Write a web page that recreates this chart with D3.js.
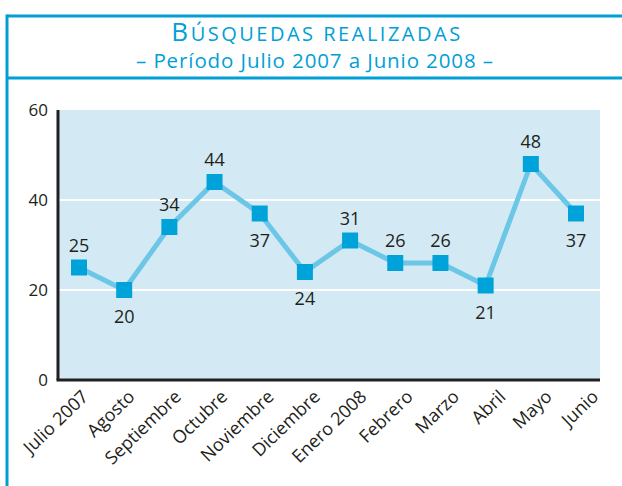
<!DOCTYPE html>
<html>
<head>
<meta charset="utf-8">
<script src="https://cdn.jsdelivr.net/npm/d3@7"></script>
<style>
  body { margin: 0; background: #fff; }
  text { font-family: "Open Sans", "Noto Sans", sans-serif; }
</style>
</head>
<body>
<div id="chart"></div>
<script>
// data
const months = ['Julio 2007', 'Agosto', 'Septiembre', 'Octubre', 'Noviembre', 'Diciembre',
                'Enero 2008', 'Febrero', 'Marzo', 'Abril', 'Mayo', 'Junio'];
const searches = [25, 20, 34, 44, 37, 24, 31, 26, 26, 21, 48, 37];
const labelBelow = [false, true, false, false, true, true, false, false, false, true, false, true];
const yTicks = [0, 20, 40, 60];

const W = 622, H = 486;
const blue = '#00a0d6';

const svg = d3.select('#chart').append('svg')
    .attr('width', W)
    .attr('height', H);

// frame
svg.append('line').attr('x1', 7).attr('x2', W).attr('y1', 16).attr('y2', 16)
    .attr('stroke', blue).attr('stroke-width', 3);
svg.append('line').attr('x1', 7).attr('x2', W).attr('y1', 78).attr('y2', 78)
    .attr('stroke', blue).attr('stroke-width', 3);
svg.append('line').attr('x1', 7).attr('x2', 7).attr('y1', 14.5).attr('y2', H)
    .attr('stroke', blue).attr('stroke-width', 3);

// title (small caps done by hand)
const title = svg.append('text')
    .attr('x', 317).attr('y', 41)
    .attr('text-anchor', 'middle')
    .style('letter-spacing', '2.5px')
    .attr('fill', blue);
title.append('tspan').style('font-size', '26px').text('B');
title.append('tspan').style('font-size', '20px').text('ÚSQUEDAS REALIZADAS');

svg.append('text')
    .attr('x', 315).attr('y', 68)
    .attr('text-anchor', 'middle')
    .style('font-size', '20.5px')
    .style('letter-spacing', '0.9px')
    .attr('fill', blue)
    .text('– Período Julio 2007 a Junio 2008 –');

// plot
const margin = { top: 110, left: 58, right: 22, bottom: 106 };
const plotW = W - margin.left - margin.right;
const plotH = H - margin.top - margin.bottom;

const g = svg.append('g')
    .attr('transform', `translate(${margin.left}, ${margin.top})`);

const x = d3.scalePoint()
    .domain(months)
    .range([21, plotW - 24]);

// rotated month labels sit on a slightly wider spacing than the points
const xLab = d3.scalePoint()
    .domain(months)
    .range([31, 541]);

const y = d3.scaleLinear()
    .domain([0, 60])
    .range([plotH, 0]);

g.append('rect')
    .attr('width', plotW)
    .attr('height', plotH)
    .attr('fill', '#d3eaf4');

// gridlines
g.selectAll('.grid')
    .data(yTicks.filter(d => d > 0 && d < 60))
    .enter().append('line')
    .attr('x1', 0).attr('x2', plotW)
    .attr('y1', d => y(d)).attr('y2', d => y(d))
    .attr('stroke', '#fff')
    .attr('stroke-width', 2);

// axes
const yAxis = g.append('g')
    .call(d3.axisLeft(y).tickValues(yTicks).tickSize(0).tickPadding(10));
yAxis.select('.domain').remove();
yAxis.selectAll('text')
    .style('font-size', '17px')
    .attr('fill', '#231f20');

const xAxis = g.append('g')
    .attr('transform', `translate(0, ${plotH})`)
    .call(d3.axisBottom(xLab).tickSize(0).tickPadding(0));
xAxis.select('.domain').remove();
xAxis.selectAll('text')
    .style('font-size', '18px')
    .attr('fill', '#231f20')
    .attr('text-anchor', 'end')
    .attr('y', 0)
    .attr('dy', 0)
    .attr('transform', 'translate(0, 18) rotate(-44)');

g.append('line')
    .attr('x1', 0).attr('x2', 0).attr('y1', 0).attr('y2', plotH)
    .attr('stroke', '#231f20').attr('stroke-width', 3);
g.append('line')
    .attr('x1', -1.5).attr('x2', plotW).attr('y1', plotH).attr('y2', plotH)
    .attr('stroke', '#231f20').attr('stroke-width', 3);

// line + markers
const line = d3.line()
    .x((d, i) => x(months[i]))
    .y(d => y(d));

g.append('path')
    .datum(searches)
    .attr('d', line)
    .attr('fill', 'none')
    .attr('stroke', '#6cc6e6')
    .attr('stroke-width', 5)
    .attr('stroke-linejoin', 'round');

const ms = 16;
g.selectAll('.pt')
    .data(searches)
    .enter().append('rect')
    .attr('x', (d, i) => x(months[i]) - ms / 2)
    .attr('y', d => y(d) - ms / 2)
    .attr('width', ms)
    .attr('height', ms)
    .attr('fill', '#00a3d9');

g.selectAll('.lbl')
    .data(searches)
    .enter().append('text')
    .attr('x', (d, i) => x(months[i]))
    .attr('y', (d, i) => labelBelow[i] ? y(d) + 33 : y(d) - 16)
    .attr('text-anchor', 'middle')
    .style('font-size', '18px')
    .attr('fill', '#231f20')
    .text(d => d);
</script>
</body>
</html>
